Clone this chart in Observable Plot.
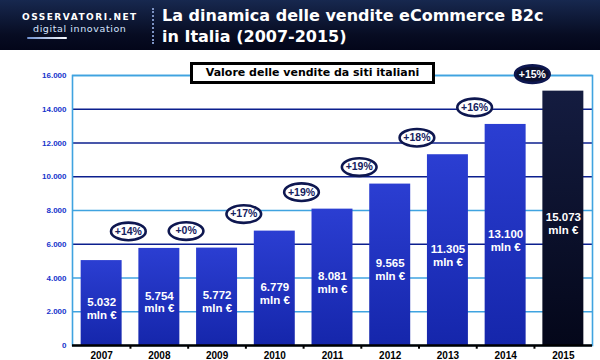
<!DOCTYPE html>
<html><head><meta charset="utf-8">
<script src="https://cdn.jsdelivr.net/npm/d3@7"></script>
<script src="https://cdn.jsdelivr.net/npm/@observablehq/plot@0.6"></script>
<style>
html,body{margin:0;padding:0;background:#fff;width:600px;height:360px;overflow:hidden;}
#header{position:relative;height:50px;background:linear-gradient(#17284f,#070c22 70%,#03061a);}
.logo1{position:absolute;left:22px;top:12px;color:#fff;font:bold 9px "DejaVu Sans",sans-serif;letter-spacing:1.5px;}
.logo2{position:absolute;left:33px;top:23px;color:#d6e4ff;font:9.5px "DejaVu Sans",sans-serif;letter-spacing:0.6px;}
.swoosh{position:absolute;left:27px;top:37px;width:40px;height:2px;background:linear-gradient(90deg,#6d8fd0,#fff);border-radius:2px;}
.sep{position:absolute;left:152px;top:8px;height:36px;border-left:2px dotted #7d93c4;}
.title{position:absolute;left:162px;top:5px;color:#fff;font:bold 16px/21px "DejaVu Sans",sans-serif;}
#chart{position:relative;width:600px;height:310px;}
.boxlabel{position:absolute;left:190px;top:12px;width:239px;height:16px;border:3px solid #000;background:#fff;
  font:bold 11px/16px "DejaVu Sans",sans-serif;text-align:center;color:#000;z-index:2;}
#chart svg{display:block;}
</style>
</head><body>
<div id="header">
  <div class="logo1">OSSERVATORI.NET</div>
  <div class="logo2">digital innovation</div>
  <div class="swoosh"></div>
  <div class="sep"></div>
  <div class="title">La dinamica delle vendite eCommerce B2c<br>in Italia (2007-2015)</div>
</div>
<div id="chart"><div class="boxlabel">Valore delle vendite da siti italiani</div></div>
<script>
const years = ["2007","2008","2009","2010","2011","2012","2013","2014","2015"];
const values = [5032, 5754, 5772, 6779, 8081, 9565, 11305, 13100, 15073];
const growthLabels = ["+14%","+0%","+17%","+19%","+19%","+18%","+16%","+15%"];
const yTicks = [0, 2000, 4000, 6000, 8000, 10000, 12000, 14000, 16000];
const lightGrid = [2000, 4000, 8000, 16000];
const darkGrid = [6000, 10000, 12000, 14000];
const unit = "mln €";
const highlightYear = "2015";

const it = d3.formatLocale({decimal: ",", thousands: ".", grouping: [3], currency: ["", "€"]});
const fmt = it.format(",d");

const bars = years.map((y, i) => ({year: y, value: values[i]}));
const growth = growthLabels.map((g, i) => ({year: years[i + 1], value: values[i + 1], label: g, last: i === growthLabels.length - 1}));

const ellipse = {
  draw(ctx, size) {
    const r = Math.sqrt(size / Math.PI);
    const rx = r * 1.97, ry = r, k = 0.5523;
    ctx.moveTo(rx, 0);
    ctx.bezierCurveTo(rx, ry * k, rx * k, ry, 0, ry);
    ctx.bezierCurveTo(-rx * k, ry, -rx, ry * k, -rx, 0);
    ctx.bezierCurveTo(-rx, -ry * k, -rx * k, -ry, 0, -ry);
    ctx.bezierCurveTo(rx * k, -ry, rx, -ry * k, rx, 0);
    ctx.closePath();
  }
};

const half = -31;
const svg = Plot.plot({
  width: 600,
  height: 310,
  marginLeft: 72,
  marginRight: 8,
  marginTop: 25,
  marginBottom: 15,
  style: {background: "transparent", fontFamily: "'Liberation Sans', Arial, sans-serif", overflow: "visible"},
  x: {domain: years, round: false, paddingInner: 0.29, paddingOuter: 0.15, label: null, tickSize: 0, tickPadding: 6},
  y: {domain: [0, 16000], ticks: yTicks, tickFormat: fmt, label: null, tickSize: 0, tickPadding: 6},
  marks: [
    Plot.ruleY(lightGrid, {stroke: "#3fa3e0", strokeWidth: 1.4}),
    Plot.ruleY(darkGrid, {stroke: "#0c1f8e", strokeWidth: 1.4}),
    Plot.frame({stroke: "#3fa3e0", strokeWidth: 1.6}),
    Plot.barY(bars.filter(d => d.year !== highlightYear), {x: "year", y: "value", fill: "url(#gBlue)"}),
    Plot.barY(bars.filter(d => d.year === highlightYear), {x: "year", y: "value", fill: "url(#gDark)"}),
    Plot.text(bars, {x: "year", y: d => d.value / 2, dy: 5, text: d => fmt(d.value) + "\n" + unit,
      fill: "white", fontWeight: "bold", fontSize: 11.5, lineHeight: 1.12,
      fontFamily: "'Liberation Sans', Arial, sans-serif"}),
    Plot.dot(growth, {x: "year", y: "value", dx: half, dy: -17, r: 8.8, symbol: ellipse,
      fill: d => d.last ? "#0b1030" : "white", stroke: "#0e1750", strokeWidth: 2.6}),
    Plot.text(growth, {x: "year", y: "value", dx: half, dy: -17, text: "label",
      fill: d => d.last ? "white" : "#15215e", fontWeight: "bold", fontSize: 10.5,
      fontFamily: "'Liberation Sans', Arial, sans-serif"}),
    Plot.ruleY([0], {stroke: "#000", strokeWidth: 2.5}),
    Plot.ruleX(years.slice(1), {x: d => d, y1: 0, y2: -220, dx: -28.9, stroke: "#000", strokeWidth: 2})
  ]
});
const defs = d3.select(svg).insert("defs", ":first-child");
const g1 = defs.append("linearGradient").attr("id", "gBlue").attr("x1", 0).attr("y1", 0).attr("x2", 0).attr("y2", 1);
g1.append("stop").attr("offset", "0%").attr("stop-color", "#2b3ed2");
g1.append("stop").attr("offset", "100%").attr("stop-color", "#1526ab");
const g2 = defs.append("linearGradient").attr("id", "gDark").attr("x1", 0).attr("y1", 0).attr("x2", 0).attr("y2", 1);
g2.append("stop").attr("offset", "0%").attr("stop-color", "#141c40");
g2.append("stop").attr("offset", "100%").attr("stop-color", "#04071a");
const st = document.createElementNS("http://www.w3.org/2000/svg", "style");
st.textContent = `
  g[aria-label^="y-axis"] text{fill:#1533cc;font-weight:bold;font-size:8px;}
  g[aria-label^="x-axis"] text{fill:#000;font-weight:bold;font-size:10px;}
`;
svg.appendChild(st);
document.getElementById("chart").appendChild(svg);
</script>
</body></html>
